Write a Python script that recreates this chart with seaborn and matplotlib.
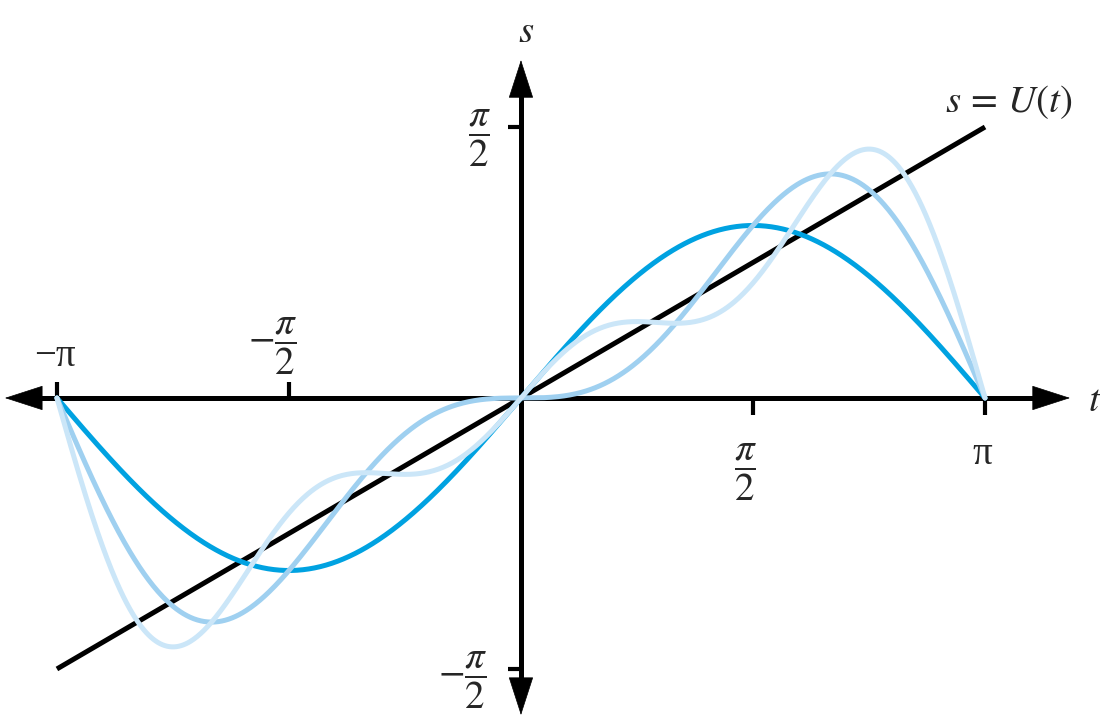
import numpy as np
import pandas as pd
import matplotlib
matplotlib.use("Agg")
import matplotlib.pyplot as plt
import seaborn as sns

# ---- data ----
# Partial sums of the sine series of U(t) = t/2 : coefficients of sin(k t), k = 1..3
coef_n1 = [1.0]
coef_n2 = [1.0, -0.5]
coef_n3 = [1.0, -0.5, 1 / 3]
curve_names = ["n=1", "n=2", "n=3"]
curve_colors = ["#00a2e1", "#9fd0f0", "#cbe6f8"]
line_slope = 0.5  # s = U(t) = t/2
xtick_vals = [-np.pi, -np.pi / 2, np.pi / 2, np.pi]
ytick_vals = [np.pi / 2, -np.pi / 2]

sns.set_style("white")
plt.rcParams["mathtext.fontset"] = "stix"
plt.rcParams["font.family"] = ["Liberation Serif", "DejaVu Serif"]

fig = plt.figure(figsize=(11, 7.28), dpi=100)
ax = fig.add_axes([0, 0, 1, 1])
ax.set_xlim(-3.527, 3.92)
ax.set_ylim(-1.913, 2.307)
ax.axis("off")

t = np.linspace(-np.pi, np.pi, 801)
rows = []
for name, coefs in zip(curve_names, [coef_n1, coef_n2, coef_n3]):
    s = sum(c * np.sin((k + 1) * t) for k, c in enumerate(coefs))
    rows.append(pd.DataFrame({"t": t, "s": s, "curve": name}))
df = pd.concat(rows, ignore_index=True)

# straight line s = U(t)
tl = np.array([-np.pi, np.pi])
sns.lineplot(x=tl, y=line_slope * tl, color="black", lw=3.6, ax=ax,
             solid_capstyle="butt", zorder=2)

for name, col in zip(curve_names, curve_colors):
    sub = df[df["curve"] == name]
    sns.lineplot(data=sub, x="t", y="s", color=col, lw=3.6, ax=ax,
                 sort=False, zorder=3 + curve_names.index(name))

# axes lines
x_lo, x_hi = -3.494, 3.717
y_lo, y_hi = -1.838, 1.959
ax.plot([x_lo + 0.1, x_hi - 0.1], [0, 0], color="black", lw=3.6, zorder=1)
ax.plot([0, 0], [y_lo + 0.1, y_hi - 0.1], color="black", lw=3.6, zorder=1)

# arrow heads
head = "-|>,head_length=1.3,head_width=0.42"
def arrow_head(tip, tail):
    ax.annotate("", xy=tip, xytext=tail,
                arrowprops=dict(arrowstyle=head, lw=0.5, color="black",
                                mutation_scale=20, shrinkA=0, shrinkB=0),
                zorder=1)
arrow_head((x_hi, 0), (x_hi - 0.4, 0))
arrow_head((x_lo, 0), (x_lo + 0.4, 0))
arrow_head((0, y_hi), (0, y_hi - 0.4))
arrow_head((0, y_lo), (0, y_lo + 0.4))

# ticks
for xv in xtick_vals:
    if xv < 0:
        ax.plot([xv, xv], [0, 0.095], color="black", lw=3, solid_capstyle="butt")
    else:
        ax.plot([xv, xv], [0, -0.10], color="black", lw=3, solid_capstyle="butt")
for yv in ytick_vals:
    ax.plot([-0.088, 0], [yv, yv], color="black", lw=3, solid_capstyle="butt")

fs = 28
ax.text(-3.155, 0.238, "\u2212\u03c0", fontsize=fs, ha="center", va="center")
ax.text(-1.679, 0.371, r"$-\dfrac{\pi}{2}$", fontsize=fs, ha="center", va="center_baseline")
ax.text(1.52, -0.354, r"$\dfrac{\pi}{2}$", fontsize=fs, ha="center", va="center_baseline")
ax.text(3.125, -0.33, "\u03c0", fontsize=fs, ha="center", va="center")
ax.text(-0.278, 1.577, r"$\dfrac{\pi}{2}$", fontsize=fs, ha="center", va="center_baseline")
ax.text(-0.393, -1.565, r"$-\dfrac{\pi}{2}$", fontsize=fs, ha="center", va="center_baseline")
ax.text(0.034, 2.12, r"$s$", fontsize=fs, ha="center", va="center")
ax.text(3.886, -0.02, r"$t$", fontsize=fs, ha="center", va="center")
ax.text(3.304, 1.716, r"$s\,=\,U(t)$", fontsize=fs, ha="center", va="center")

fig.savefig("out.png", dpi=100)
